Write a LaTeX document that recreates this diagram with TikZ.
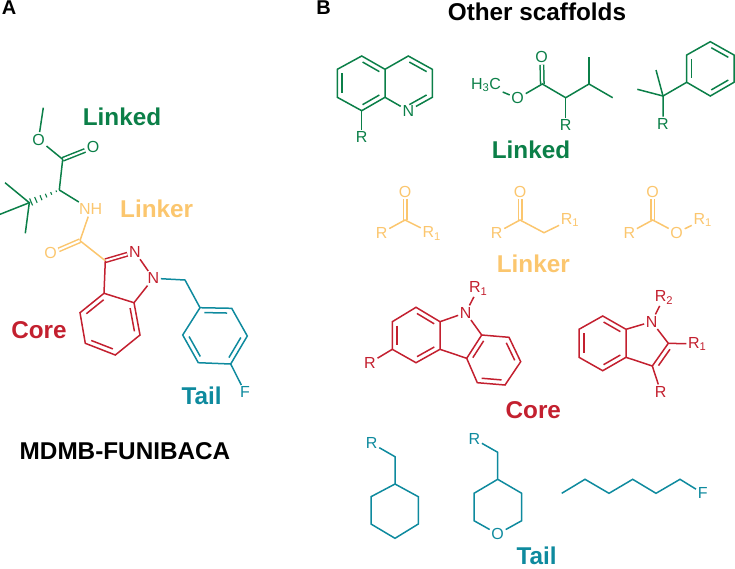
\documentclass[tikz,border=0pt]{standalone}
\usepackage{fontspec}
\setmainfont{Liberation Sans}
\usetikzlibrary{calc}
\definecolor{linkedcol}{HTML}{0B7F48}
\definecolor{linkercol}{HTML}{FBC66E}
\definecolor{corecol}{HTML}{C3202F}
\definecolor{tailcol}{HTML}{0E8A9E}
\tikzset{
    atom/.style={font=\fontsize{16}{16}\selectfont, inner sep=1.6pt}, % atom letters
    title/.style={font=\fontsize{24.3}{26}\selectfont\bfseries, inner sep=0pt},
    panel/.style={font=\fontsize{20}{22}\selectfont\bfseries, inner sep=0pt},
    bond/.style={line width=1.5pt, line join=miter},
    cobond/.style={bond, double, double distance=2pt}, % close pair, C=O
}
% inner line of a ring double bond, lies to the left going from #1 to #2
\newcommand{\innerbond}[2]{\draw[bond] ($(#1)!0.14!(#2)!4.8pt!90:(#2)$) -- ($(#2)!0.14!(#1)!4.8pt!-90:(#1)$);}
\begin{document}
\begin{tikzpicture}[x=1pt, y=-1pt]
        \useasboundingbox (0, 0) rectangle (735, 568);
        \node[panel] (labelA) at (9, 8) {A};
        \node[panel] (labelB) at (323.5, 7.5) {B};
        \node[title] (others) at (537, 11.5) {Other scaffolds};
        \node[title] (name) at (125, 451) {MDMB-FUNIBACA};
        \begin{scope}[color=linkedcol] % panel A, linked
            \node[title] (linkedA) at (122, 117) {Linked};
            \coordinate (mea) at (43.3, 107.7);
            \node[atom] (oa) at (38.5, 139.5) {O};
            \coordinate (ca) at (62.7, 159.3);
            \node[atom] (ob) at (93, 147.3) {O};
            \coordinate (cb) at (59.3, 190);
            \coordinate (tb) at (29.3, 202.7);
            \coordinate (tba) at (5, 182.7);
            \coordinate (tbb) at (0, 214.3);
            \coordinate (tbc) at (25.3, 233.3);
            \draw[cobond] (ca) -- (ob);
            \draw[bond] (mea) -- (oa) -- (ca) -- (cb);
            \draw[bond] (tba) -- (tb) -- (tbb);
            \draw[bond] (tb) -- (tbc);
            \foreach \t/\w in {0.1/0.8, 0.27/1.4, 0.44/2, 0.61/2.6, 0.78/3.2, 0.94/3.8} {
                \draw[line width=1.1pt] ($(cb)!\t!(tb)!\w pt!90:(tb)$) -- ($(cb)!\t!(tb)!\w pt!-90:(tb)$);
            }
        \end{scope}
        \begin{scope}[color=linkercol] % panel A, linker
            \node[title] (linkerA) at (156.7, 209.3) {Linker};
            \node[atom] (nh) at (90.7, 209.3) {NH};
            \coordinate (cc) at (80, 240.7);
            \node[atom] (oc) at (50.7, 253.3) {O};
            \draw[cobond] (cc) -- (oc);
            \draw[bond] (nh) -- (cc);
        \end{scope}
        \draw[bond, linkedcol] (cb) -- (nh);
        \begin{scope}[color=corecol] % panel A, core
            \node[title] (coreA) at (39, 330) {Core};
            \coordinate (cthree) at (105.3, 260.7);
            \node[atom] (ntwo) at (135, 252) {N};
            \node[atom] (none) at (153.3, 278.3) {N};
            \coordinate (cta) at (104, 293.3);
            \coordinate (csa) at (134, 302.7);
            \coordinate (cfour) at (80, 312.7);
            \coordinate (cfive) at (85.3, 343.3);
            \coordinate (csix) at (115.3, 355);
            \coordinate (cseven) at (140, 335);
            \draw[cobond] (cthree) -- (ntwo);
            \draw[bond] (cthree) -- (cta) -- (csa) -- (none) -- (ntwo);
            \draw[bond] (cta) -- (cfour) -- (cfive) -- (csix) -- (cseven) -- (csa);
            \innerbond{cta}{cfour}
            \innerbond{cfive}{csix}
            \innerbond{cseven}{csa}
        \end{scope}
        \draw[bond, linkercol] (cc) -- (cthree);
        \begin{scope}[color=tailcol] % panel A, tail
            \node[title] (tailA) at (201.7, 395.7) {Tail};
            \coordinate (ch) at (185, 280);
            \coordinate (ta) at (200, 307.7);
            \coordinate (tc) at (231.7, 308.3);
            \coordinate (td) at (247.3, 336);
            \coordinate (te) at (230.7, 364);
            \coordinate (tf) at (198.3, 362.7);
            \coordinate (tg) at (182.7, 335);
            \node[atom] (fa) at (245, 392.3) {F};
            \draw[bond] (none) -- (ch) -- (ta);
            \draw[bond] (ta) -- (tc) -- (td) -- (te) -- (tf) -- (tg) -- cycle;
            \draw[bond] (te) -- (fa);
            \innerbond{tc}{ta}
            \innerbond{tg}{tf}
            \innerbond{te}{td}
        \end{scope}
        \begin{scope}[color=linkedcol] % panel B, linked
            \node[title] (linkedB) at (531, 150) {Linked};
            % quinoline
            \coordinate (qa) at (361.7, 56);
            \coordinate (qb) at (385, 69.3);
            \coordinate (qc) at (385, 97.3);
            \coordinate (qd) at (361.7, 110.7);
            \coordinate (qe) at (337.3, 97.3);
            \coordinate (qf) at (337.3, 69.3);
            \coordinate (qg) at (408.3, 56);
            \coordinate (qh) at (432.3, 69.3);
            \coordinate (qi) at (432.3, 97.3);
            \node[atom] (qn) at (408.3, 110.7) {N};
            \node[atom] (qr) at (361.7, 137.3) {R};
            \draw[bond] (qa) -- (qb) -- (qc) -- (qd) -- (qe) -- (qf) -- cycle;
            \draw[bond] (qb) -- (qg) -- (qh) -- (qi) -- (qn) -- (qc);
            \draw[bond] (qd) -- (qr);
            \innerbond{qb}{qa}
            \innerbond{qf}{qe}
            \innerbond{qd}{qc}
            \innerbond{qh}{qg}
            \innerbond{qn}{qi}
            % methyl ester
            \node[atom] (mh) at (486, 85) {H\textsubscript{3}C};
            \node[atom] (mo) at (517.7, 98.3) {O};
            \coordinate (mc) at (542.3, 84);
            \node[atom] (mp) at (541.7, 57.3) {O};
            \coordinate (md) at (565.7, 97.7);
            \node[atom] (mr) at (565.7, 125) {R};
            \coordinate (me) at (589, 84);
            \coordinate (mf) at (589, 57.3);
            \coordinate (mg) at (612.7, 97.7);
            \draw[cobond] (mc) -- (mp);
            \draw[bond] (mh) -- (mo) -- (mc) -- (md) -- (me) -- (mg);
            \draw[bond] (me) -- (mf);
            \draw[bond] (md) -- (mr);
            % phenyl
            \coordinate (pa) at (637.3, 89.3);
            \coordinate (pb) at (656, 70);
            \coordinate (pc) at (663, 96);
            \node[atom] (pr) at (663, 124) {R};
            \coordinate (pd) at (686.7, 82.3);
            \coordinate (pe) at (686.7, 55);
            \coordinate (pf) at (710.3, 41.7);
            \coordinate (pg) at (734, 55);
            \coordinate (ph) at (734, 82.3);
            \coordinate (pi) at (710.3, 96);
            \draw[bond] (pa) -- (pc) -- (pd);
            \draw[bond] (pb) -- (pc) -- (pr);
            \draw[bond] (pd) -- (pe) -- (pf) -- (pg) -- (ph) -- (pi) -- cycle;
            \innerbond{pe}{pd}
            \innerbond{pg}{pf}
            \innerbond{pi}{ph}
        \end{scope}
        \begin{scope}[color=linkercol] % panel B, linker
            \node[title] (linkerB) at (533.3, 264) {Linker};
            \node[atom] (lao) at (405, 191.7) {O};
            \coordinate (lac) at (405, 220);
            \node[atom] (lar) at (381.7, 232.7) {R};
            \node[atom] (las) at (431.7, 233.3) {R\textsubscript{1}};
            \draw[cobond] (lac) -- (lao);
            \draw[bond] (lar) -- (lac) -- (las);
            \node[atom] (lbo) at (520, 191.7) {O};
            \coordinate (lbc) at (520, 220);
            \node[atom] (lbr) at (496.7, 232.7) {R};
            \coordinate (lbd) at (544, 232.7);
            \node[atom] (lbs) at (570, 220) {R\textsubscript{1}};
            \draw[cobond] (lbc) -- (lbo);
            \draw[bond] (lbr) -- (lbc) -- (lbd) -- (lbs);
            \node[atom] (lco) at (652.7, 191.7) {O};
            \coordinate (lcc) at (652.7, 220);
            \node[atom] (lcr) at (629.3, 232.7) {R};
            \node[atom] (lcp) at (676.7, 232.7) {O};
            \node[atom] (lcs) at (702.7, 220) {R\textsubscript{1}};
            \draw[cobond] (lcc) -- (lco);
            \draw[bond] (lcr) -- (lcc) -- (lcp) -- (lcs);
        \end{scope}
        \begin{scope}[color=corecol] % panel B, core
            \node[title] (coreB) at (533.3, 410) {Core};
            % carbazole
            \node[atom] (kr) at (478.3, 288.3) {R\textsubscript{1}};
            \node[atom] (kn) at (465.7, 312.7) {N};
            \coordinate (ka) at (440, 321.7);
            \coordinate (kb) at (416, 307.3);
            \coordinate (kc) at (392.3, 321.7);
            \coordinate (kd) at (392.3, 349.3);
            \coordinate (ke) at (416, 362.7);
            \coordinate (kf) at (440, 349.3);
            \node[atom] (ks) at (370, 362.7) {R};
            \coordinate (kg) at (466.7, 358.3);
            \coordinate (kh) at (481.7, 335);
            \coordinate (ki) at (509, 337.3);
            \coordinate (kj) at (520.7, 361.7);
            \coordinate (kk) at (505, 385);
            \coordinate (kl) at (477.3, 382.7);
            \draw[bond] (kn) -- (ka) -- (kb) -- (kc) -- (kd) -- (ke) -- (kf) -- (ka);
            \draw[bond] (kf) -- (kg) -- (kh) -- (kn);
            \draw[bond] (kh) -- (ki) -- (kj) -- (kk) -- (kl) -- (kg);
            \draw[bond] (kd) -- (ks);
            \draw[bond] (kn) -- (kr);
            \innerbond{ka}{kb}
            \innerbond{kc}{kd}
            \innerbond{ke}{kf}
            \innerbond{kh}{kg}
            \innerbond{kj}{ki}
            \innerbond{kl}{kk}
            % indole
            \node[atom] (jt) at (664, 297.3) {R\textsubscript{2}};
            \node[atom] (jn) at (651.7, 321.7) {N};
            \coordinate (ja) at (626, 329.3);
            \coordinate (jb) at (602.7, 316);
            \coordinate (jc) at (579, 329.3);
            \coordinate (jd) at (579, 357.3);
            \coordinate (je) at (602.7, 370.7);
            \coordinate (jf) at (626, 357.3);
            \coordinate (jg) at (652.3, 366);
            \coordinate (jh) at (668.3, 343.3);
            \node[atom] (js) at (697.3, 344) {R\textsubscript{1}};
            \node[atom] (jr) at (660.7, 391.7) {R};
            \draw[bond] (jn) -- (ja) -- (jb) -- (jc) -- (jd) -- (je) -- (jf) -- (ja);
            \draw[bond] (jf) -- (jg) -- (jh) -- (jn);
            \draw[bond] (jh) -- (js);
            \draw[bond] (jg) -- (jr);
            \draw[bond] (jn) -- (jt);
            \innerbond{ja}{jb}
            \innerbond{jc}{jd}
            \innerbond{je}{jf}
            \innerbond{jh}{jg}
        \end{scope}
        \begin{scope}[color=tailcol] % panel B, tail
            \node[title] (tailB) at (536.7, 556) {Tail};
            \node[atom] (ur) at (371.7, 443.3) {R};
            \coordinate (ua) at (395, 456.7);
            \coordinate (ub) at (395, 484);
            \coordinate (uc) at (418.3, 496.7);
            \coordinate (ud) at (418.3, 524);
            \coordinate (ue) at (395, 538.3);
            \coordinate (uf) at (371, 524);
            \coordinate (ug) at (371, 496.7);
            \draw[bond] (ur) -- (ua) -- (ub) -- (uc) -- (ud) -- (ue) -- (uf) -- (ug) -- (ub);
            \node[atom] (vr) at (474.3, 439) {R};
            \coordinate (va) at (497.7, 452.3);
            \coordinate (vb) at (497.7, 479.3);
            \coordinate (vc) at (521.7, 493.3);
            \coordinate (vd) at (521.7, 520.7);
            \node[atom] (vo) at (497.7, 534) {O};
            \coordinate (vf) at (474, 520.7);
            \coordinate (vg) at (474, 493.3);
            \draw[bond] (vr) -- (va) -- (vb) -- (vc) -- (vd) -- (vo) -- (vf) -- (vg) -- (vb);
            \coordinate (wa) at (561.7, 493.3);
            \coordinate (wb) at (585, 479.3);
            \coordinate (wc) at (609, 493.3);
            \coordinate (wd) at (632.7, 479.3);
            \coordinate (we) at (656, 493.3);
            \coordinate (wf) at (680, 479.3);
            \node[atom] (wg) at (702.7, 493.3) {F};
            \draw[bond] (wa) -- (wb) -- (wc) -- (wd) -- (we) -- (wf) -- (wg);
        \end{scope}
    \end{tikzpicture}
\end{document}
